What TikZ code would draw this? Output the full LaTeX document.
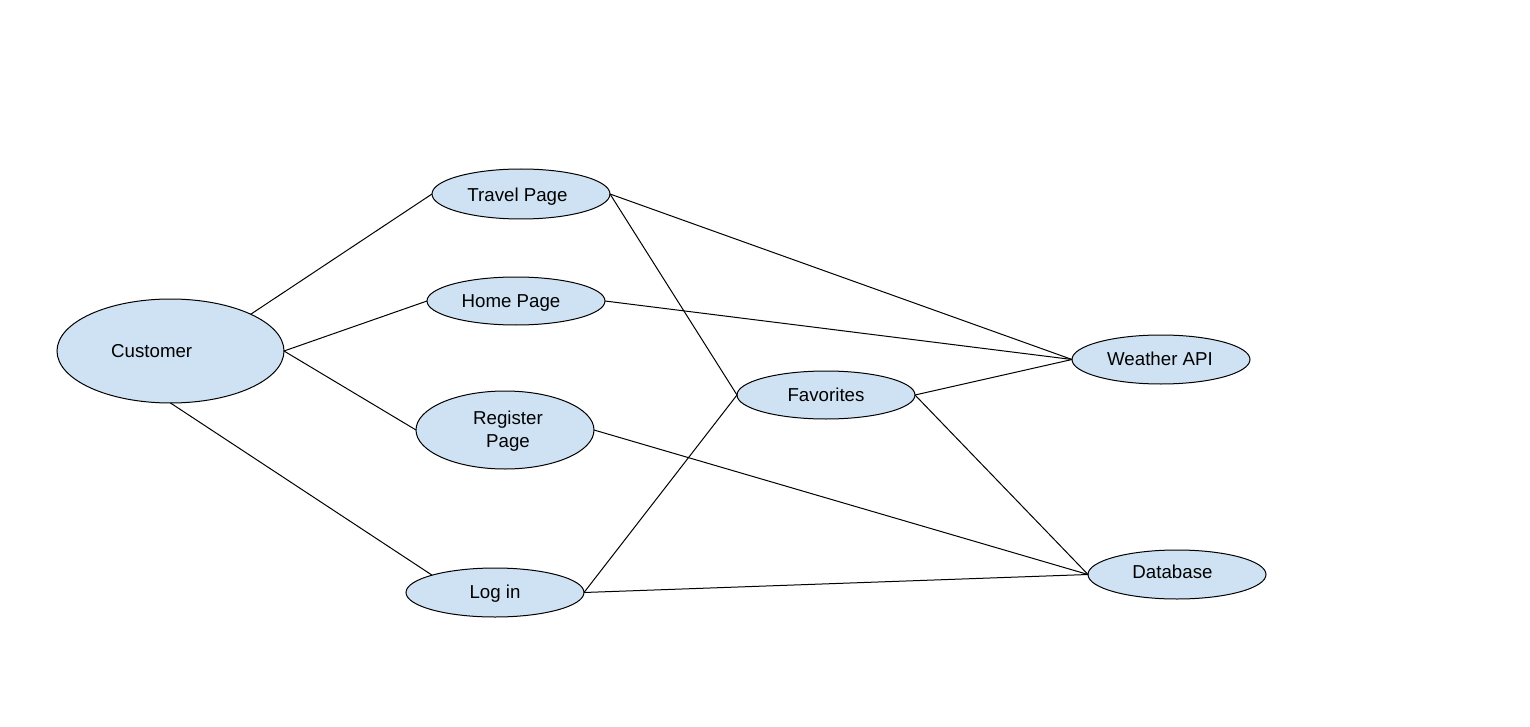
\documentclass[tikz,border=0pt]{standalone}
\usepackage{fontspec}
\setmainfont{Liberation Sans}
\usetikzlibrary{shapes.geometric}
\definecolor{usefill}{HTML}{CFE2F3}
\begin{document}
\begin{tikzpicture}[x=1pt,y=-1pt,
  usecase/.style={ellipse,draw=black,line width=1pt,fill=usefill,inner sep=0pt,outer sep=0pt,
    minimum width=178pt,minimum height=49pt},
  link/.style={draw=black,line width=1pt},
  lbl/.style={inner sep=0pt,align=center,font=\fontsize{18.7}{23}\selectfont},
  oneline/.style={lbl,text height=13.4pt,text depth=0pt}]
\useasboundingbox (0,0) rectangle (1530,727);
% actor and use cases
\node[usecase,minimum width=227pt,minimum height=104pt] (cust) at (170.5,351) {};
\node[usecase,minimum height=50pt] (travel) at (521,194) {};
\node[usecase,minimum height=48pt] (home) at (516,301) {};
\node[usecase,minimum height=78pt] (reg) at (505,430) {};
\node[usecase] (login) at (495,592.5) {};
\node[usecase,minimum height=48pt] (fav) at (826,395) {};
\node[usecase] (weather) at (1161,359.5) {};
\node[usecase] (db) at (1177,574.5) {};
% captions
\node[oneline] (custtext) at (151.7,350.5) {Customer};
\node[oneline] (traveltext) at (517.5,194.5) {Travel Page};
\node[oneline] (hometext) at (511,301) {Home Page};
\node[lbl] (regtext) at (508,431.4) {Register\\Page};
\node[oneline] (logintext) at (495,592) {Log in};
\node[oneline] (favtext) at (826,395) {Favorites};
\node[oneline] (weathertext) at (1160,358.8) {Weather API};
\node[oneline] (dbtext) at (1172.5,572) {Database};
% associations
\draw[link] (cust.north east) -- (travel.west);
\draw[link] (cust.east) -- (home.west);
\draw[link] (cust.east) -- (reg.west);
\draw[link] (cust.south) -- (login.north west);
\draw[link] (travel.east) -- (weather.west);
\draw[link] (travel.east) -- (fav.west);
\draw[link] (home.east) -- (weather.west);
\draw[link] (reg.east) -- (db.west);
\draw[link] (login.east) -- (fav.west);
\draw[link] (login.east) -- (db.west);
\draw[link] (fav.east) -- (weather.west);
\draw[link] (fav.east) -- (db.west);
\end{tikzpicture}
\end{document}
